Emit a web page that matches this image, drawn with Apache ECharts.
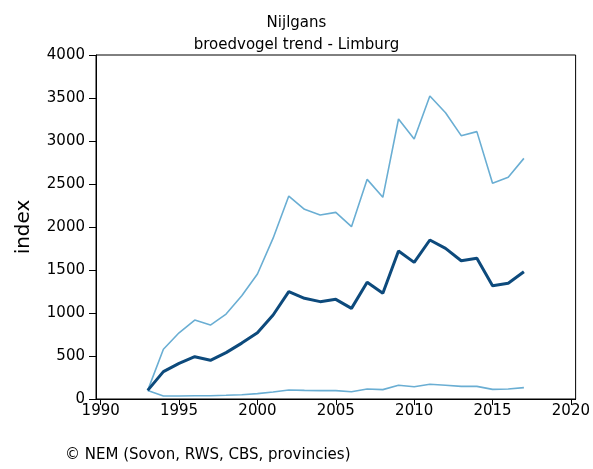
<!DOCTYPE html>
<html>
<head>
<meta charset="utf-8">
<script src="https://cdn.jsdelivr.net/npm/echarts@6/dist/echarts.min.js"></script>
<style>
  html, body { margin: 0; padding: 0; background: #fff; }
  #chart { width: 593px; height: 469px; }
</style>
</head>
<body>
<div id="chart"></div>
<script>
// Nijlgans breeding bird index, Limburg: trend with lower and upper bounds
const years = [1993,1994,1995,1996,1997,1998,1999,2000,2001,2002,2003,2004,2005,
               2006,2007,2008,2009,2010,2011,2012,2013,2014,2015,2016,2017];
const trend = [100,318,415,492,450,539,650,771,977,1248,1171,1132,1159,
               1054,1357,1229,1721,1589,1849,1752,1608,1636,1318,1345,1480];
const upper = [100,578,770,918,860,988,1200,1453,1870,2360,2205,2140,2170,
               2004,2554,2345,3256,3023,3523,3329,3062,3109,2508,2578,2798];
const lower = [100,35,35,38,38,43,50,62,81,105,100,97,97,
               85,116,109,159,143,171,159,147,147,112,116,132];
const xTicks = [1990,1995,2000,2005,2010,2015,2020];

const FONT = 'DejaVu Sans';
const pair = (arr) => years.map((y, i) => [y, arr[i]]);

const chart = echarts.init(document.getElementById('chart'), null, { renderer: 'canvas' });
chart.setOption({
  animation: false,
  backgroundColor: '#ffffff',
  title: {
    text: 'Nijlgans\nbroedvogel trend - Limburg',
    left: 'center',
    top: 7,
    textStyle: { fontFamily: FONT, fontSize: 15, fontWeight: 'normal', color: '#000', lineHeight: 22 }
  },
  graphic: [{
    type: 'text',
    left: 65,
    top: 448,
    style: { text: '© NEM (Sovon, RWS, CBS, provincies)', font: '15px "DejaVu Sans"', fill: '#000' }
  }],
  grid: {
    left: 96, top: 55, right: 15, bottom: 70,
    show: true, borderColor: '#000', borderWidth: 1, backgroundColor: 'transparent'
  },
  xAxis: {
    type: 'value',
    min: 1989.7,
    max: 2020.3,
    splitLine: { show: false },
    axisLine: { show: true, lineStyle: { color: '#000', width: 1 } },
    axisTick: { show: true, length: 6, lineStyle: { color: '#000' }, customValues: xTicks },
    axisLabel: { customValues: xTicks, color: '#000', fontFamily: FONT, fontSize: 15, margin: 5,
                 formatter: (v) => String(v) }
  },
  yAxis: {
    type: 'value',
    min: 0,
    max: 4000,
    interval: 500,
    name: 'index',
    nameLocation: 'middle',
    nameGap: 62,
    nameTextStyle: { fontFamily: FONT, fontSize: 20, color: '#000' },
    splitLine: { show: false },
    axisLine: { show: true, lineStyle: { color: '#000', width: 1 } },
    axisTick: { show: true, length: 7, lineStyle: { color: '#000' } },
    axisLabel: { color: '#000', fontFamily: FONT, fontSize: 15, margin: 11,
                 formatter: (v) => String(v) }
  },
  series: [
    { name: 'upper', type: 'line', data: pair(upper), symbol: 'none',
      lineStyle: { color: '#6aaed3', width: 1.6 }, z: 2 },
    { name: 'lower', type: 'line', data: pair(lower), symbol: 'none',
      lineStyle: { color: '#6aaed3', width: 1.6 }, z: 2 },
    { name: 'trend', type: 'line', data: pair(trend), symbol: 'none',
      lineStyle: { color: '#0d4a7c', width: 3 }, z: 3 }
  ]
});
</script>
</body>
</html>
